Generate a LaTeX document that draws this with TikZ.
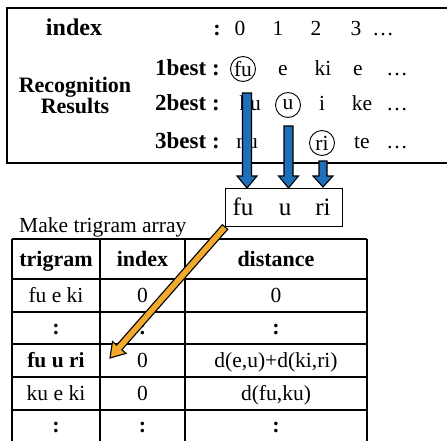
\documentclass[tikz,border=0pt]{standalone}
\usepackage{fontspec}
\setmainfont{Liberation Serif}
\usetikzlibrary{calc}
\definecolor{arrblue}{RGB}{31,111,186}
\definecolor{arrorange}{RGB}{242,170,45}
\newcommand\blockarr[6]{%
  \coordinate (nk) at ($(#2)!#5!(#1)$);
  \filldraw[fill=#6, draw=black, line width=1.1pt, line join=miter]
    ($(#1)!#3!90:(#2)$) -- ($(nk)!#3!90:(#2)$) -- ($(nk)!#4!90:(#2)$) -- (#2)
    -- ($(nk)!#4!-90:(#2)$) -- ($(nk)!#3!-90:(#2)$) -- ($(#1)!#3!-90:(#2)$) -- cycle;}
\newcommand\cfont{\fontsize{21.5}{25}\selectfont}
\tikzset{
  txt/.style={font=\fontsize{21.5}{25}\selectfont, inner sep=0pt, anchor=base},
  btxt/.style={font=\fontsize{22}{26}\selectfont\bfseries, inner sep=0pt, anchor=base},
  lbl/.style={font=\fontsize{23}{27}\selectfont\bfseries, inner sep=0pt, anchor=base west},
  circ/.style={draw, circle, line width=0.9pt, minimum size=25pt, inner sep=0pt},
  tline/.style={line width=1.3pt},
}
\begin{document}
\begin{tikzpicture}[x=1pt,y=-1pt]
\useasboundingbox (0,0) rectangle (447,441);
\clip (0,0) rectangle (447,441);
% top box
\draw[line width=1.2pt] (7,8) rectangle (470,163);
\node[btxt, font=\fontsize{24}{28}\selectfont\bfseries] (hidx) at (74,36) {index};
\node[btxt] (hcol) at (217,36) {:};
\node[txt] (i0) at (240,36) {0};
\node[txt] (i1) at (278,36) {1};
\node[txt] (i2) at (316,36) {2};
\node[txt] (i3) at (356,36) {3};
\node[txt] (i4) at (383,36) {…};
\node[btxt] (rec1) at (75,93) {Recognition};
\node[btxt] (rec2) at (75,114) {Results};
\node[lbl] (b1) at (155,76) {1best :};
\node[lbl] (b2) at (155,111) {2best :};
\node[lbl] (b3) at (155,149) {3best :};
% row 1
\node[circ] (cfu) at (243,69) {\cfont fu};
\node[txt] (r1b) at (283,76) {e};
\node[txt] (r1c) at (323,76) {ki};
\node[txt] (r1d) at (358,76) {e};
\node[txt] (r1e) at (397,76) {…};
% row 2
\node[txt] (r2a) at (250,111) {ku};
\node[circ] (cu) at (288,105) {\cfont u};
\node[txt] (r2c) at (322,111) {i};
\node[txt] (r2d) at (362,111) {ke};
\node[txt] (r2e) at (397,111) {…};
% row 3
\node[txt] (r3a) at (247,149) {nu};
\node[circ] (cri) at (322,143) {\cfont ri};
\node[txt] (r3d) at (362,149) {te};
\node[txt] (r3e) at (397,149) {…};
% trigram box
\node[draw, line width=0.9pt, minimum width=117pt, minimum height=38pt, inner sep=0pt] (tri) at (283.5,207) {};
\node[txt, font=\fontsize{25}{30}\selectfont] (t1) at (243,215) {fu};
\node[txt, font=\fontsize{25}{30}\selectfont] (t2) at (285,215) {u};
\node[txt, font=\fontsize{25}{30}\selectfont] (t3) at (323,215) {ri};
% blue arrows
\coordinate (a1s) at (247,93);  \coordinate (a1e) at (247,188);
\coordinate (a2s) at (288.5,126); \coordinate (a2e) at (288.5,188);
\coordinate (a3s) at (323,161); \coordinate (a3e) at (323,187);
\blockarr{a1s}{a1e}{4.5pt}{10pt}{12pt}{arrblue}
\blockarr{a2s}{a2e}{4.5pt}{10pt}{12pt}{arrblue}
\blockarr{a3s}{a3e}{4pt}{10pt}{11pt}{arrblue}
% table
\node[txt, anchor=base west] (mk) at (19,232) {Make trigram array};
\draw[tline] (12,239) -- (12,450) (100,239) -- (100,450) (185,239) -- (185,450) (367,239) -- (367,450);
\foreach \yy in {239,279,312,344,377,410} \draw[tline] (12,\yy) -- (367,\yy);
\node[btxt] (th1) at (56,266) {trigram};
\node[btxt] (th2) at (142.5,266) {index};
\node[btxt] (th3) at (276,266) {distance};
\node[txt] (c11) at (56,302) {fu e ki};
\node[txt] (c12) at (142.5,302) {0};
\node[txt] (c13) at (276,302) {0};
\node[btxt] (c21) at (56,334) {:};
\node[btxt] (c22) at (142.5,334) {:};
\node[btxt] (c23) at (276,334) {:};
\node[btxt, font=\fontsize{21.5}{25}\selectfont\bfseries] (c31) at (56,367) {fu u ri};
\node[txt] (c32) at (142.5,367) {0};
\node[txt] (c33) at (276,367) {d(e,u)+d(ki,ri)};
\node[txt] (c41) at (56,400) {ku e ki};
\node[txt] (c42) at (142.5,400) {0};
\node[txt] (c43) at (276,400) {d(fu,ku)};
\node[btxt] (c51) at (56,432) {:};
\node[btxt] (c52) at (142.5,432) {:};
\node[btxt] (c53) at (276,432) {:};
% orange arrow
\coordinate (os) at (225,227);
\coordinate (oe) at (110,358);
\blockarr{os}{oe}{3.5pt}{9pt}{14pt}{arrorange}
\end{tikzpicture}
\end{document}
